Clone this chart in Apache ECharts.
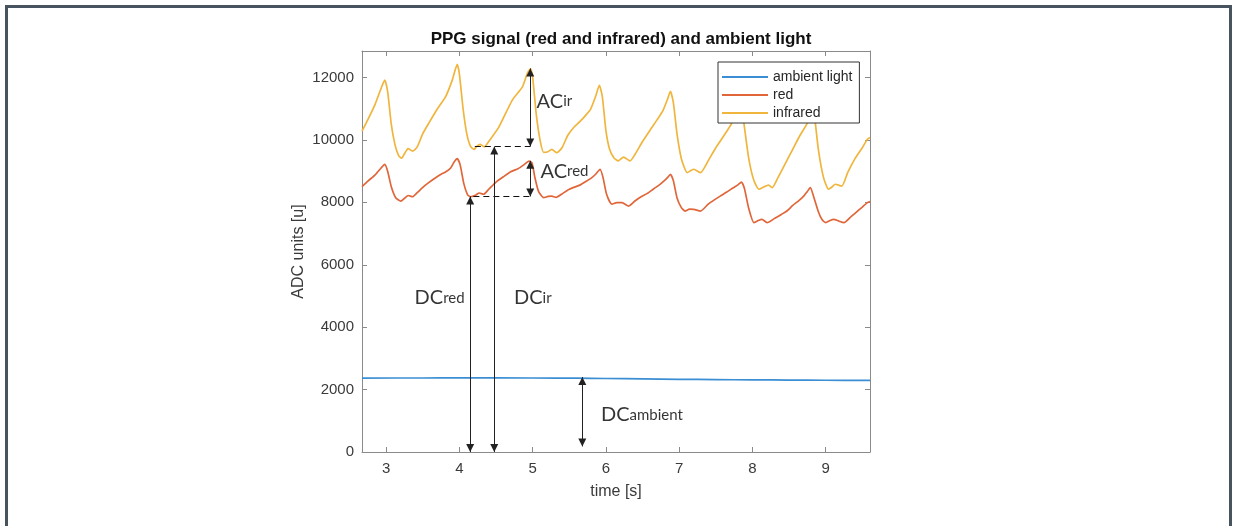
<!DOCTYPE html>
<html>
<head>
<meta charset="utf-8">
<script src="https://cdn.jsdelivr.net/npm/echarts@6/dist/echarts.min.js"></script>
<style>
html,body{margin:0;padding:0;background:#fff;}
#chart{position:absolute;left:0;top:0;width:1237px;height:526px;}
#frame{position:absolute;left:5px;top:5px;width:1221px;height:600px;border:3px solid #47535e;border-bottom:none;pointer-events:none;}
</style>
</head>
<body>
<div id="chart"></div>
<div id="frame"></div>
<script>
// ---------- data ----------
const timeAmb = [2.67, 3.5, 4.0, 5.0, 5.6, 6.0, 6.5, 7.0, 7.5, 8.0, 8.5, 9.0, 9.605];
const ambient = [2370, 2372, 2374, 2372, 2366, 2356, 2342, 2330, 2320, 2312, 2306, 2300, 2295];

const timeRed = [2.67, 2.75, 2.85, 2.93, 2.98, 3.02, 3.07, 3.13, 3.20, 3.25, 3.30, 3.36, 3.42, 3.50, 3.58, 3.67, 3.75, 3.81, 3.88, 3.93, 3.97, 4.01, 4.06, 4.11, 4.15, 4.22, 4.27, 4.33, 4.40, 4.50, 4.60, 4.70, 4.80, 4.88, 4.95, 4.99, 5.03, 5.08, 5.15, 5.21, 5.26, 5.32, 5.40, 5.50, 5.65, 5.72, 5.79, 5.86, 5.92, 5.96, 6.01, 6.08, 6.15, 6.22, 6.31, 6.40, 6.48, 6.56, 6.65, 6.73, 6.79, 6.84, 6.88, 6.92, 6.97, 7.03, 7.08, 7.14, 7.20, 7.29, 7.40, 7.48, 7.56, 7.65, 7.74, 7.80, 7.85, 7.89, 7.95, 8.02, 8.08, 8.13, 8.20, 8.30, 8.40, 8.47, 8.55, 8.63, 8.70, 8.75, 8.79, 8.84, 8.90, 8.95, 9.00, 9.06, 9.11, 9.18, 9.25, 9.35, 9.45, 9.50, 9.57, 9.605];
const red = [8500, 8680, 8880, 9100, 9220, 9000, 8500, 8150, 8040, 8130, 8220, 8180, 8300, 8480, 8630, 8780, 8900, 8970, 9100, 9300, 9400, 9200, 8600, 8250, 8180, 8230, 8300, 8260, 8420, 8650, 8820, 8980, 9080, 9200, 9320, 9270, 8800, 8350, 8150, 8190, 8200, 8160, 8270, 8420, 8560, 8660, 8760, 8900, 9060, 8800, 8250, 7940, 7990, 7990, 7880, 8050, 8180, 8280, 8430, 8560, 8680, 8790, 8900, 8700, 8150, 7830, 7720, 7780, 7776, 7722, 7950, 8080, 8200, 8330, 8470, 8560, 8650, 8450, 7800, 7350, 7420, 7456, 7350, 7480, 7620, 7722, 7900, 8050, 8200, 8350, 8470, 8150, 7700, 7450, 7350, 7420, 7456, 7400, 7350, 7550, 7750, 7850, 7990, 8030];

const timeIr = [2.67, 2.75, 2.85, 2.93, 2.98, 3.02, 3.07, 3.12, 3.17, 3.21, 3.26, 3.30, 3.36, 3.42, 3.50, 3.58, 3.70, 3.81, 3.90, 3.97, 4.00, 4.05, 4.10, 4.15, 4.20, 4.24, 4.28, 4.34, 4.40, 4.54, 4.72, 4.86, 4.93, 4.97, 5.00, 5.05, 5.10, 5.15, 5.21, 5.26, 5.33, 5.40, 5.48, 5.56, 5.65, 5.72, 5.79, 5.86, 5.91, 5.95, 6.00, 6.05, 6.11, 6.17, 6.24, 6.33, 6.40, 6.50, 6.61, 6.70, 6.78, 6.84, 6.88, 6.92, 6.97, 7.03, 7.11, 7.16, 7.20, 7.29, 7.40, 7.50, 7.60, 7.72, 7.78, 7.83, 7.88, 7.95, 8.02, 8.09, 8.16, 8.22, 8.27, 8.35, 8.45, 8.55, 8.65, 8.75, 8.80, 8.84, 8.90, 8.97, 9.04, 9.09, 9.13, 9.22, 9.30, 9.40, 9.50, 9.57, 9.605];
const infrared = [10280, 10650, 11150, 11650, 11920, 11550, 10500, 9850, 9500, 9420, 9600, 9720, 9640, 9760, 10200, 10530, 11000, 11380, 11900, 12420, 12100, 11000, 10200, 9800, 9700, 9800, 9860, 9780, 9950, 10420, 11270, 11700, 12150, 12280, 12000, 10800, 10000, 9600, 9620, 9700, 9590, 9750, 10150, 10400, 10600, 10780, 10980, 11400, 11750, 11400, 10300, 9700, 9420, 9330, 9450, 9330, 9550, 9950, 10340, 10650, 10950, 11300, 11560, 11200, 10200, 9400, 8950, 9020, 9060, 8950, 9350, 9750, 10100, 10550, 11000, 11450, 10600, 9400, 8700, 8420, 8500, 8550, 8470, 8800, 9250, 9700, 10150, 10550, 11200, 10900, 9700, 8800, 8420, 8500, 8580, 8520, 8950, 9400, 9750, 10020, 10080];

const seriesNames = ['ambient light', 'red', 'infrared'];
const xTicks = [3, 4, 5, 6, 7, 8, 9];
const yTicks = [0, 2000, 4000, 6000, 8000, 10000, 12000];

// annotation arrows: [time, from value, to value]
const arrowT = [4.967, 4.967, 4.147, 4.475, 5.678];
const arrowFrom = [9790, 8190, 0, 0, 180];
const arrowTo = [12290, 9330, 8190, 9790, 2400];
// dashed guide lines
const dashStart = [4.21, 4.19];
const dashEnd = [4.967, 4.967];
const dashV = [9790, 8190];
// annotation texts
const annMain = ['AC', 'AC', 'DC', 'DC', 'DC'];
const annSub = ['ir', 'red', 'red', 'ir', 'ambient'];
const annT = [5.047, 5.10, 4.078, 4.738, 5.926];
const annV = [11240, 9000, 4940, 4940, 1190];

// ---------- styles ----------
const axisColor = '#8a8a8a';
const textColor = '#3a3a3a';
const colors = ['#3b8ed3', '#e0663a', '#f0b53c'];
const annAnchor = ['right', 'right', 'left', 'right', 'right'];
const legendLine = 'path://M0,0 L46,0 L46,2 L0,2 Z';

const pairs = (ts, vs) => ts.map((t, i) => [t, vs[i]]);

const chart = echarts.init(document.getElementById('chart'), null, {renderer: 'canvas'});

const baseAxisX = {
  type: 'value', min: 2.67, max: 9.605, minInterval: 1, maxInterval: 1, splitNumber: 7,
  splitLine: {show: false},
  axisLine: {show: true, onZero: false, lineStyle: {color: axisColor, width: 1}},
  axisTick: {show: true, inside: true, length: 5, lineStyle: {color: axisColor}}
};
const baseAxisY = {
  type: 'value', min: 0, max: 12850, interval: 2000,
  splitLine: {show: false},
  axisLine: {show: true, onZero: false, lineStyle: {color: axisColor, width: 1}},
  axisTick: {show: true, inside: true, length: 5, lineStyle: {color: axisColor}}
};

const option = {
  animation: false,
  backgroundColor: '#fff',
  title: {
    text: 'PPG signal (red and infrared) and ambient light',
    left: 616, top: 26, textAlign: 'center',
    textStyle: {fontFamily: 'Liberation Sans', fontSize: 17, fontWeight: 'bold', color: '#111'}
  },
  grid: {left: 362, right: 367, top: 51, bottom: 74, show: false},
  legend: {
    data: seriesNames.map(n => ({name: n, icon: legendLine})),
    orient: 'vertical', left: 718, top: 62, z: 20,
    itemWidth: 46, itemHeight: 14, itemGap: 4,
    padding: [8, 7, 3, 4],
    backgroundColor: '#fff', borderColor: '#333', borderWidth: 1, borderRadius: 0,
    textStyle: {fontFamily: 'Liberation Sans', fontSize: 14, color: '#262626'},
    selectedMode: false
  },
  xAxis: [
    Object.assign({}, baseAxisX, {
      position: 'bottom',
      axisLabel: {
        color: textColor, fontFamily: 'Liberation Sans', fontSize: 15, margin: 9,
        showMinLabel: false, showMaxLabel: false,
        formatter: v => (xTicks.indexOf(v) >= 0 ? String(v) : '')
      },
      name: 'time [s]', nameLocation: 'middle', nameGap: 32,
      nameTextStyle: {fontFamily: 'Liberation Sans', fontSize: 16, color: textColor}
    }),
    Object.assign({}, baseAxisX, {position: 'top', axisLabel: {show: false}})
  ],
  yAxis: [
    Object.assign({}, baseAxisY, {
      position: 'left',
      axisLabel: {
        color: textColor, fontFamily: 'Liberation Sans', fontSize: 15, margin: 8,
        showMaxLabel: false,
        formatter: v => (yTicks.indexOf(v) >= 0 ? String(v) : '')
      },
      name: 'ADC units [u]', nameLocation: 'middle', nameGap: 55,
      nameTextStyle: {fontFamily: 'Liberation Sans', fontSize: 16, color: textColor}
    }),
    Object.assign({}, baseAxisY, {position: 'right', axisLabel: {show: false}})
  ],
  series: [
    {
      name: seriesNames[0], type: 'line', data: pairs(timeAmb, ambient), symbol: 'none', smooth: 0.3,
      lineStyle: {width: 1.7, color: colors[0]}, itemStyle: {color: colors[0]}, z: 2
    },
    {
      name: seriesNames[1], type: 'line', data: pairs(timeRed, red), symbol: 'none', smooth: 0.2,
      lineStyle: {width: 1.7, color: colors[1]}, itemStyle: {color: colors[1]}, z: 2
    },
    {
      name: seriesNames[2], type: 'line', data: pairs(timeIr, infrared), symbol: 'none', smooth: 0.2,
      lineStyle: {width: 1.7, color: colors[2]}, itemStyle: {color: colors[2]}, z: 2
    },
    {
      name: 'dashes', type: 'line', data: [], symbol: 'none', z: 3,
      markLine: {
        silent: true, animation: false, symbol: ['none', 'none'],
        label: {show: false},
        lineStyle: {color: '#111', width: 1.2, type: [6, 4]},
        emphasis: {disabled: true},
        data: dashV.map((v, i) => [{coord: [dashStart[i], v]}, {coord: [dashEnd[i], v]}])
      }
    },
    {
      name: 'annotations', type: 'scatter', z: 3, symbol: 'circle', symbolSize: 1,
      silent: true,
      itemStyle: {color: 'rgba(0,0,0,0)'},
      label: {show: true},
      data: annT.map((t, i) => ({
        value: [t, annV[i]],
        label: {
          show: true, position: annAnchor[i], distance: 0,
          formatter: '{big|' + annMain[i] + '}{small|' + annSub[i] + '}',
          rich: {
            big: {fontFamily: 'Lato', fontSize: 20, color: '#000'},
            small: {fontFamily: 'Lato', fontSize: 15, color: '#000'}
          }
        }
      })),
      markLine: {
        silent: true, animation: false,
        symbol: ['triangle', 'triangle'], symbolSize: [8, 8],
        symbolOffset: [[0, 4], [0, 4]],
        label: {show: false},
        lineStyle: {color: '#222', width: 1, type: 'solid'},
        itemStyle: {color: '#000'},
        emphasis: {disabled: true},
        data: arrowT.map((t, i) => [{coord: [t, arrowFrom[i]]}, {coord: [t, arrowTo[i]]}])
      }
    }
  ]
};
chart.setOption(option);
</script>
</body>
</html>
